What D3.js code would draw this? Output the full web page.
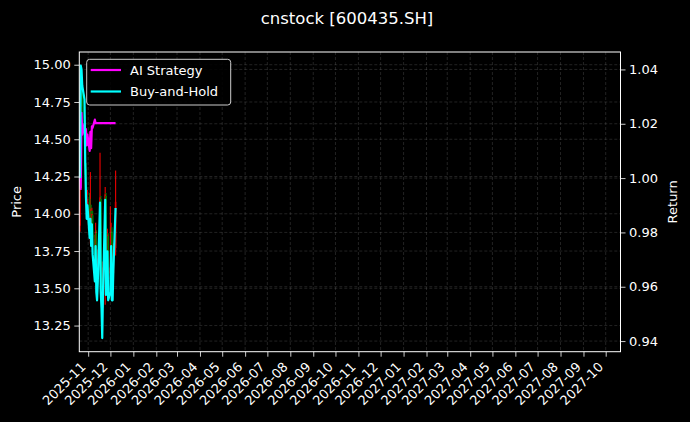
<!DOCTYPE html>
<html>
<head>
<meta charset="utf-8">
<script src="https://cdn.jsdelivr.net/npm/d3@7"></script>
<style>
  html, body { margin: 0; padding: 0; background: #000; }
  svg { display: block; font-family: "DejaVu Sans", sans-serif; }
</style>
</head>
<body>
<div id="chart"></div>
<script>
// trading days shown
const dates = [
  '2025-10-21', '2025-10-22', '2025-10-23', '2025-10-24', '2025-10-27', '2025-10-28', '2025-10-29',
  '2025-10-30', '2025-10-31', '2025-11-03', '2025-11-04', '2025-11-05', '2025-11-06', '2025-11-07',
  '2025-11-10', '2025-11-11', '2025-11-12', '2025-11-13', '2025-11-14', '2025-11-17', '2025-11-18',
  '2025-11-19', '2025-11-20', '2025-11-21', '2025-11-24', '2025-11-25', '2025-11-26', '2025-11-27',
  '2025-11-28', '2025-12-01', '2025-12-02', '2025-12-03', '2025-12-04', '2025-12-05', '2025-12-08'
];
const opens  = [13.92, 14.25, 14.82, 14.80, 14.72, 14.62, 14.30, 14.13, 14.02, 14.10, 13.92, 14.02,
                13.89, 13.99, 13.83, 13.70, 13.87, 13.64, 13.60, 13.71, 14.10, 13.64, 13.55, 13.41,
                13.64, 14.12, 13.63, 13.74, 13.85, 13.60, 13.64, 13.88, 13.60, 13.60, 13.77];
const highs  = [14.28, 14.994, 14.92, 14.88, 14.80, 14.66, 14.34, 14.18, 14.16, 14.14, 14.28, 14.06,
                14.04, 14.02, 13.86, 13.94, 13.89, 13.68, 13.76, 14.41, 14.12, 13.68, 13.60, 13.68,
                14.18, 14.14, 13.80, 13.90, 13.87, 14.05, 13.94, 13.91, 13.66, 13.80, 14.29];
const lows   = [13.88, 14.22, 14.76, 14.68, 14.58, 14.26, 14.08, 13.98, 13.98, 13.88, 13.80, 13.84,
                13.86, 13.80, 13.66, 13.58, 13.60, 13.54, 13.56, 13.68, 13.60, 13.50, 13.166, 13.37,
                13.39, 13.58, 13.56, 13.70, 13.56, 13.56, 13.58, 13.56, 13.54, 13.58, 13.72];
const closes = [14.24, 14.82, 14.80, 14.72, 14.64, 14.32, 14.14, 14.03, 14.10, 13.93, 14.03, 13.88,
                14.00, 13.84, 13.70, 13.88, 13.64, 13.60, 13.70, 14.11, 13.64, 13.56, 13.41, 13.64,
                14.13, 13.63, 13.74, 13.86, 13.60, 13.64, 13.88, 13.60, 13.60, 13.76, 14.08];

const aiStrategy = [1.000, 0.996, 1.024, 1.016, 1.020, 1.013, 1.018, 1.012, 1.016, 1.010, 1.017, 1.011,
                    1.019, 1.0185, 1.0215, 1.0202, 1.0202, 1.0202, 1.0202, 1.0202, 1.0202, 1.0202,
                    1.0202, 1.0202, 1.0202, 1.0202, 1.0202, 1.0202, 1.0202, 1.0202, 1.0202, 1.0202,
                    1.0202, 1.0202, 1.0202];
const buyHold    = [1.000, 1.0414, 1.040, 1.034, 1.029, 1.006, 0.993, 0.985, 0.990, 0.978, 0.985, 0.975,
                    0.983, 0.972, 0.962, 0.975, 0.958, 0.955, 0.962, 0.991, 0.958, 0.952, 0.9411, 0.958,
                    0.992, 0.957, 0.965, 0.973, 0.955, 0.958, 0.975, 0.955, 0.955, 0.966, 0.989];

const xRange = ['2025-10-20', '2027-10-21'];
const priceTicks = [13.25, 13.50, 13.75, 14.00, 14.25, 14.50, 14.75, 15.00];
const returnTicks = [0.94, 0.96, 0.98, 1.00, 1.02, 1.04];
const seriesNames = ['AI Strategy', 'Buy-and-Hold'];
const seriesColors = ['#ff00ff', '#00ffff'];

const W = 690, H = 422;
const margin = { top: 52, right: 69.5, bottom: 70.3, left: 79.3 };
const iw = W - margin.left - margin.right;
const ih = H - margin.top - margin.bottom;

const parse = d3.utcParse('%Y-%m-%d');
const days = dates.map(parse);

const svg = d3.select('#chart').append('svg')
  .attr('width', W).attr('height', H)
  .style('background', '#000');

const g = svg.append('g').attr('transform', `translate(${margin.left},${margin.top})`);

const x = d3.scaleUtc().domain(xRange.map(parse)).range([0, iw]);

// matplotlib style 5% padding
function padded(lo, hi) {
  const p = (hi - lo) * 0.05;
  return [lo - p, hi + p];
}
const yPrice = d3.scaleLinear()
  .domain(padded(d3.min(lows), d3.max(highs)))
  .range([ih, 0]);
const yRet = d3.scaleLinear()
  .domain(padded(d3.min(aiStrategy.concat(buyHold)), d3.max(aiStrategy.concat(buyHold))))
  .range([ih, 0]);

const monthTicks = x.ticks(d3.utcMonth.every(1));

// grid
const gridStyle = sel => sel
  .attr('stroke', '#808080')
  .attr('stroke-opacity', 0.45)
  .attr('stroke-width', 0.6)
  .attr('stroke-dasharray', '3,2');

g.append('g').selectAll('line').data(monthTicks).join('line')
  .attr('x1', d => x(d)).attr('x2', d => x(d))
  .attr('y1', 0).attr('y2', ih)
  .call(gridStyle);

g.append('g').selectAll('line').data(priceTicks).join('line')
  .attr('x1', 0).attr('x2', iw)
  .attr('y1', d => yPrice(d)).attr('y2', d => yPrice(d))
  .call(gridStyle);

// candles
const candles = g.append('g');
const up = i => closes[i] > opens[i];
const colorOf = i => up(i) ? '#dc0000' : '#007a00';

candles.selectAll('line').data(days).join('line')
  .attr('x1', d => x(d)).attr('x2', d => x(d))
  .attr('y1', (d, i) => yPrice(highs[i]))
  .attr('y2', (d, i) => yPrice(lows[i]))
  .attr('stroke', (d, i) => colorOf(i))
  .attr('stroke-width', 1.2);

candles.selectAll('rect').data(days).join('rect')
  .attr('x', d => x(d) - 0.8)
  .attr('width', 1.6)
  .attr('y', (d, i) => yPrice(Math.max(opens[i], closes[i])))
  .attr('height', (d, i) => Math.max(0.6, Math.abs(yPrice(opens[i]) - yPrice(closes[i]))))
  .attr('fill', (d, i) => colorOf(i));

// return axis grid
g.append('g').selectAll('line').data(returnTicks).join('line')
  .attr('x1', 0).attr('x2', iw)
  .attr('y1', d => yRet(d)).attr('y2', d => yRet(d))
  .call(gridStyle);

// lines
const line = d3.line()
  .x((d, i) => x(days[i]))
  .y(d => yRet(d));

[aiStrategy, buyHold].forEach((s, k) => {
  g.append('path')
    .datum(s)
    .attr('d', line)
    .attr('fill', 'none')
    .attr('stroke', seriesColors[k])
    .attr('stroke-width', 2.2)
    .attr('stroke-linejoin', 'round');
});

// frame
g.append('rect')
  .attr('x', 0).attr('y', 0).attr('width', iw).attr('height', ih)
  .attr('fill', 'none').attr('stroke', '#fff').attr('stroke-width', 1);

// axes
const styleAxis = ax => {
  ax.select('.domain').remove();
  ax.selectAll('.tick line').attr('stroke', '#fff').attr('stroke-width', 0.8);
  ax.selectAll('.tick text').attr('fill', '#fff').style('font-size', '13px')
    .style('font-family', '"DejaVu Sans", sans-serif');
};

const xAxis = g.append('g')
  .attr('transform', `translate(0,${ih})`)
  .call(d3.axisBottom(x).tickValues(monthTicks).tickFormat(d3.utcFormat('%Y-%m')).tickSize(5).tickPadding(3))
  .call(styleAxis);
xAxis.selectAll('.tick text')
  .attr('text-anchor', 'end')
  .attr('dy', 0)
  .attr('y', 0)
  .attr('transform', 'translate(-2.2,16) rotate(-45)');

g.append('g')
  .call(d3.axisLeft(yPrice).tickValues(priceTicks).tickFormat(d3.format('.2f')).tickSize(5).tickPadding(3.5))
  .call(styleAxis);

g.append('g')
  .attr('transform', `translate(${iw},0)`)
  .call(d3.axisRight(yRet).tickValues(returnTicks).tickFormat(d3.format('.2f')).tickSize(5).tickPadding(3.5))
  .call(styleAxis);

// axis titles
svg.append('text')
  .attr('transform', `translate(21,${margin.top + ih / 2}) rotate(-90)`)
  .attr('text-anchor', 'middle')
  .attr('fill', '#fff').style('font-size', '13px')
  .text('Price');

svg.append('text')
  .attr('transform', `translate(677,${margin.top + ih / 2}) rotate(-90)`)
  .attr('text-anchor', 'middle')
  .attr('fill', '#fff').style('font-size', '13px')
  .text('Return');

// title
svg.append('text')
  .attr('x', W / 2 + 2).attr('y', 24)
  .attr('text-anchor', 'middle')
  .attr('fill', '#fff').style('font-size', '16.5px')
  .text('cnstock [600435.SH]');

// legend
const leg = g.append('g').attr('transform', 'translate(7.4,7.3)');
leg.append('rect')
  .attr('width', 144).attr('height', 45.7)
  .attr('rx', 3).attr('ry', 3)
  .attr('fill', '#000').attr('fill-opacity', 0.85)
  .attr('stroke', '#cccccc').attr('stroke-width', 1);

seriesNames.forEach((name, k) => {
  const yy = 10.7 + k * 21.5;
  leg.append('line')
    .attr('x1', 4).attr('x2', 34.3)
    .attr('y1', yy).attr('y2', yy)
    .attr('stroke', seriesColors[k]).attr('stroke-width', 2.2);
  leg.append('text')
    .attr('x', 43.3).attr('y', yy + 4.7)
    .attr('fill', '#fff').style('font-size', '13px')
    .text(name);
});
</script>
</body>
</html>
